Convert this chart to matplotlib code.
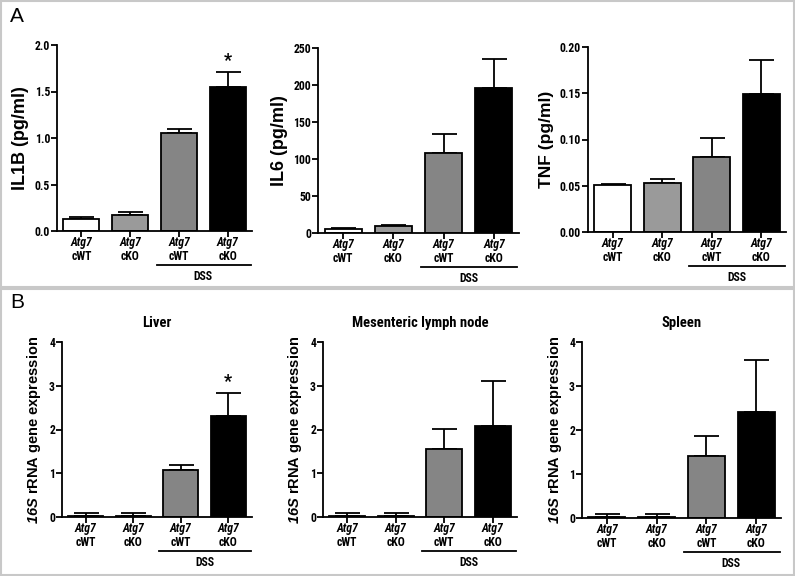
import matplotlib
matplotlib.use("Agg")
import matplotlib.pyplot as plt
from matplotlib.patches import Rectangle
from matplotlib.lines import Line2D
from matplotlib.transforms import ScaledTranslation

plt.rcParams['font.family'] = ['Roboto Condensed', 'Liberation Sans', 'DejaVu Sans']
plt.rcParams['font.weight'] = 'bold'
plt.rcParams['mathtext.fontset'] = 'custom'
plt.rcParams['mathtext.bfit'] = 'Liberation Sans:italic:bold'
plt.rcParams['mathtext.rm'] = 'Liberation Sans:bold'

W, H = 795, 576

# data
genotypes = ['cWT', 'cKO', 'cWT', 'cKO']
bar_colors = ['white', '#9a9a9a', '#858585', 'black']

il1b = [0.125, 0.17, 1.057, 1.55]
il1b_err = [0.03, 0.03, 0.045, 0.16]
il6 = [5.4, 9.9, 108, 195.5]
il6_err = [1.0, 1.0, 26, 40]
tnf = [0.051, 0.0535, 0.0808, 0.149]
tnf_err = [0.0013, 0.004, 0.021, 0.037]

liver = [0.02, 0.02, 1.07, 2.32]
liver_err = [0.08, 0.08, 0.11, 0.51]
mln = [0.02, 0.02, 1.55, 2.08]
mln_err = [0.07, 0.07, 0.47, 1.02]
spleen = [0.02, 0.02, 1.40, 2.42]
spleen_err = [0.07, 0.07, 0.47, 1.18]

fig = plt.figure(figsize=(W / 100, H / 100), dpi=100)

# panel frames
for (y0, y1) in [(1, 287), (289, 575)]:
    fig.add_artist(Rectangle((1 / W, 1 - y1 / H), (W - 2) / W, (y1 - y0) / H,
                             transform=fig.transFigure, fill=False,
                             edgecolor='#c8c8c8', linewidth=1.5))
fig.text(10 / W, 1 - 16 / H, 'A', fontsize=15, fontweight='normal',
         family='Liberation Sans', va='center')
fig.text(10 / W, 1 - 303 / H, 'B', fontsize=15, fontweight='normal',
         family='Liberation Sans', va='center')


def panel(box, vals, errs, ymax, yticks, ylabel, ylsize, title=None, star=False, fmt='{:.1f}'):
    left, right, top, bottom = box
    ax = fig.add_axes([left / W, 1 - bottom / H, (right - left) / W, (bottom - top) / H])
    x = range(len(vals))
    ax.bar(x, vals, width=0.74, color=bar_colors, edgecolor='black', linewidth=1.3, zorder=2)
    ax.errorbar(x, vals, yerr=[[0] * len(vals), errs], fmt='none', ecolor='black',
                elinewidth=1.3, capsize=9, capthick=1.3, zorder=1)
    ax.set_xlim(-0.5, 3.5)
    ax.set_ylim(0, ymax)
    ax.set_yticks(yticks)
    ax.set_yticklabels([fmt.format(t) for t in yticks], fontsize=8.5)
    ax.set_xticks(list(x))
    ax.set_xticklabels([''] * 4)
    for s in ['top', 'right']:
        ax.spines[s].set_visible(False)
    for s in ['left', 'bottom']:
        ax.spines[s].set_linewidth(1.3)
    ax.tick_params(width=1.3, length=4, pad=1)
    ax.set_ylabel(ylabel, fontsize=ylsize, family='Liberation Sans', fontweight='bold',
                  labelpad=4)
    for i, g in enumerate(genotypes):
        ax.annotate('Atg7', (i, 0), xycoords=('data', 'axes fraction'), xytext=(0, -8),
                    textcoords='offset points', ha='center', va='center',
                    fontsize=8.5, style='italic')
        ax.annotate(g, (i, 0), xycoords=('data', 'axes fraction'), xytext=(0, -18.5),
                    textcoords='offset points', ha='center', va='center', fontsize=8.5)
    tr = ax.get_xaxis_transform() + ScaledTranslation(0, -0.34, fig.dpi_scale_trans)
    ax.add_line(Line2D([1.55, 3.47], [0, 0], transform=tr, color='black',
                       linewidth=1.3, clip_on=False))
    ax.annotate('DSS', (2.5, 0), xycoords=('data', 'axes fraction'), xytext=(0, -32.5),
                textcoords='offset points', ha='center', va='center', fontsize=8.5)
    if star:
        ax.text(3, vals[3] + errs[3] + ymax * 0.012, '*', ha='center', va='bottom',
                fontsize=13)
    if title:
        ax.set_title(title, fontsize=10.5, fontweight='bold', pad=11)
    return ax


panel((57, 252, 45, 231), il1b, il1b_err, 2.0, [0, 0.5, 1.0, 1.5, 2.0],
      'IL1B (pg/ml)', 13, star=True)
panel((318, 519, 48, 233), il6, il6_err, 250, [0, 50, 100, 150, 200, 250],
      'IL6 (pg/ml)', 13, fmt='{:.0f}')
panel((588, 786, 47, 232), tnf, tnf_err, 0.20, [0, 0.05, 0.10, 0.15, 0.20],
      'TNF (pg/ml)', 12.5, fmt='{:.2f}')

ylab16 = r'$\mathbfit{16S}$ rRNA gene expression'
panel((62, 252, 342, 517), liver, liver_err, 4, [0, 1, 2, 3, 4], ylab16, 10.5,
      title='Liver', star=True, fmt='{:.0f}')
panel((323, 517, 342, 517), mln, mln_err, 4, [0, 1, 2, 3, 4], ylab16, 10.5,
      title='Mesenteric lymph node', fmt='{:.0f}')
panel((582, 781, 342, 518), spleen, spleen_err, 4, [0, 1, 2, 3, 4], ylab16, 10.5,
      title='Spleen', fmt='{:.0f}')

fig.savefig('out.png', dpi=100)
